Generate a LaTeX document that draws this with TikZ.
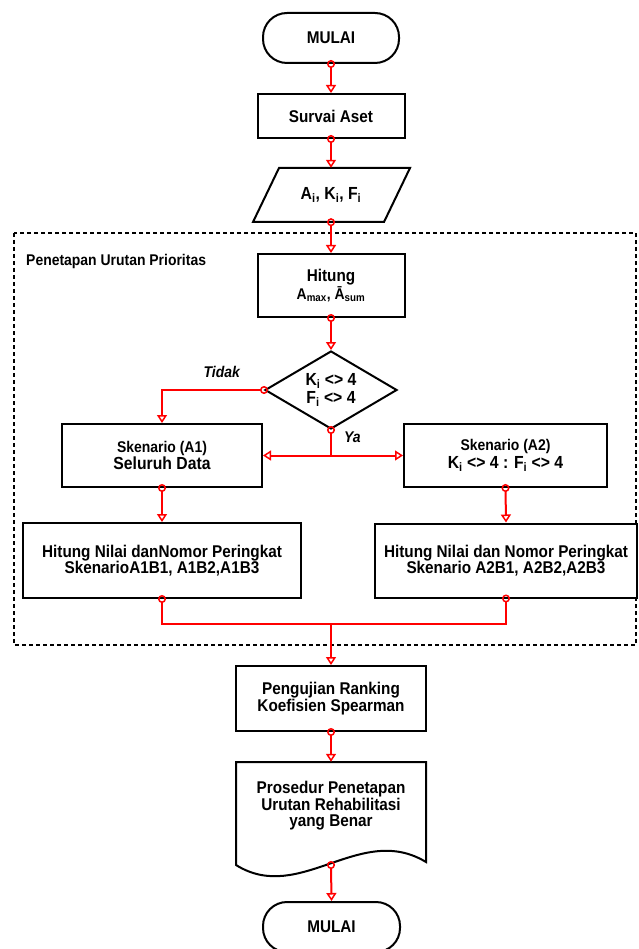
\documentclass[tikz,border=0pt]{standalone}
\usepackage{fontspec}
\setmainfont{Liberation Sans}[FakeStretch=0.9]
\usetikzlibrary{arrows.meta,shapes.geometric}
\newcommand{\fs}[1]{\fontsize{#1}{16.5}\selectfont}
\begin{document}
\begin{tikzpicture}[x=1pt,y=-1pt,
  box/.style={draw=black,line width=2pt,fill=white,align=center,font=\bfseries\fs{17},inner sep=0pt},
  term/.style={box,rounded corners=24pt},
  flow/.style={draw=red,line width=2pt,shorten <=-4pt,
     {Circle[open,length=8pt,width=8pt,line width=1.5pt]}-{Triangle[open,length=8pt,width=10pt,line width=1.5pt]}},
  circboth/.style={draw=red,line width=2pt,shorten <=-4pt,shorten >=-4pt,
     {Circle[open,length=8pt,width=8pt,line width=1.5pt]}-{Circle[open,length=8pt,width=8pt,line width=1.5pt]}},
  tip/.style={draw=red,line width=2pt,-{Triangle[open,length=8pt,width=10pt,line width=1.5pt]}},
  lbl/.style={font=\bfseries\itshape\fs{15.5},inner sep=0pt},
]
\useasboundingbox (0,0) rectangle (638,949);
\fill[white] (0,0) rectangle (638,949);

% dashed group
\draw[line width=2pt,dash pattern=on 4pt off 3pt] (14,233) rectangle (636,645);
\node[font=\bfseries\fs{15.5},anchor=west,inner sep=0pt] (grp) at (26,261) {Penetapan Urutan Prioritas};

\node[term,minimum width=136pt,minimum height=50pt] (start) at (331,38) {MULAI};
\node[box,minimum width=147pt,minimum height=44pt] (survai) at (331,116) {Survai Aset};

\draw[line width=2pt,fill=white] (279,168) -- (410,168) -- (384,222) -- (253,222) -- cycle;
\node[inner sep=0pt,minimum width=120pt,minimum height=54pt,font=\bfseries\fs{17.5}] (inp) at (331,195)
  {A\textsubscript{i}, K\textsubscript{i}, F\textsubscript{i}};

\node[box,minimum width=147pt,minimum height=63pt] (hitung) at (331,285.5)
  {Hitung\\{\fs{15.5}A\textsubscript{max}, Ā\textsubscript{sum}}};

\node[box,shape=diamond,aspect=1.7,minimum width=132pt,minimum height=78pt,font=\bfseries\fs{17.5}] (dia) at (331,390)
  {K\textsubscript{i} <> 4\\[1pt]F\textsubscript{i} <> 4};

\node[box,minimum width=200pt,minimum height=63pt] (A1) at (162,455.5)
  {{\fs{15.5}Skenario (A1)}\\[1pt]{\fs{17.5}Seluruh Data}};
\node[box,minimum width=203pt,minimum height=63pt] (A2) at (505.5,455.5)
  {{\fs{15.5}Skenario (A2)}\\[1pt]{\fs{17.5}K\textsubscript{i} <> 4 : F\textsubscript{i} <> 4}};

\node[box,minimum width=278pt,minimum height=75pt] (H1) at (162,560.5)
  {Hitung Nilai danNomor Peringkat\\SkenarioA1B1, A1B2,A1B3};
\node[box,minimum width=262pt,minimum height=74pt] (H2) at (506,560.5)
  {Hitung Nilai dan Nomor Peringkat\\Skenario A2B1, A2B2,A2B3};

\node[box,minimum width=190pt,minimum height=65pt] (peng) at (331,698.5)
  {Pengujian Ranking\\Koefisien Spearman};

\draw[line width=2pt,fill=white] (236,762) -- (426,762) -- (426,862)
   .. controls (360,822) and (300,905) .. (236,865) -- cycle;
\node[inner sep=0pt,minimum width=190pt,minimum height=102pt] (doc) at (331,813) {};
\node[inner sep=0pt,align=center,font=\bfseries\fs{17}] (doctext) at (331,806)
  {Prosedur Penetapan\\Urutan Rehabilitasi\\yang Benar};
\coordinate (docout) at (331,865);

\node[term,minimum width=137pt,minimum height=50pt] (fin) at (331.5,927) {MULAI};

\node[lbl,anchor=east] (tidak) at (240,372) {Tidak};
\node[lbl,anchor=west] (ya) at (344,437) {Ya};

% connectors
\draw[flow] (start.south) -- (survai.north);
\draw[flow] (survai.south) -- (inp.north);
\draw[flow] (inp.south) -- (hitung.north);
\draw[flow] (hitung.south) -- (dia.north);
\draw[flow] (dia.west) -| (A1.north);
\coordinate (yj) at (dia.south |- A1.east);
\draw[flow] (dia.south) -- (yj) -- (A1.east);
\draw[tip] (yj) -- (A2.west);
\draw[flow] (A1.south) -- (H1.north);
\draw[flow] (A2.south) -- (H2.north);
\coordinate (mj) at (331,624);
\draw[circboth] (H1.south) |- (mj) -| (H2.south);
\draw[tip] (mj) -- (peng.north);
\draw[flow] (peng.south) -- (doc.north);
\draw[flow] (docout) -- (fin.north);
\end{tikzpicture}
\end{document}
